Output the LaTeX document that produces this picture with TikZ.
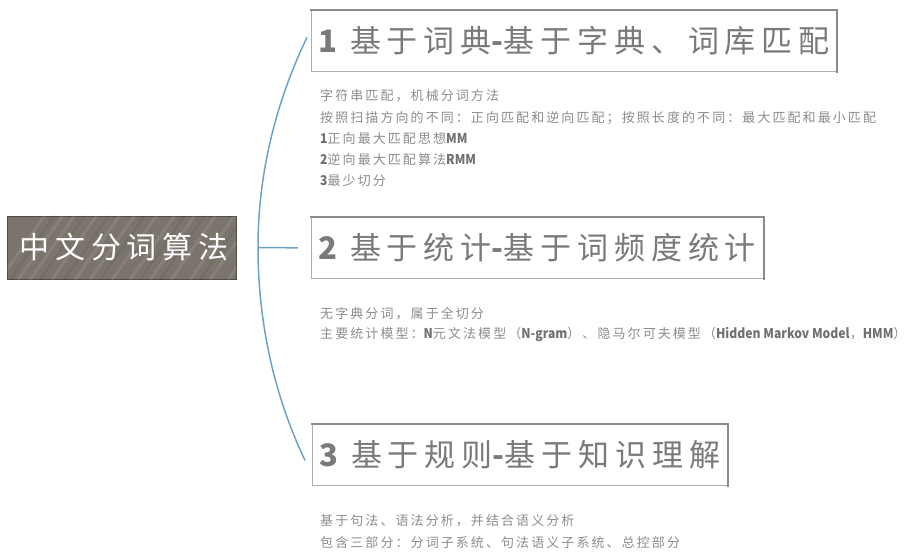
\documentclass[tikz,border=0pt]{standalone}
\usepackage{fontspec}
\usepackage{graphicx}
\setmainfont{Noto Sans CJK SC}
\newfontfamily\cjk{Noto Sans CJK SC}
\newfontfamily\cjkt[LetterSpace=19]{Noto Sans CJK SC}
\newfontfamily\cjks[LetterSpace=16]{Noto Sans CJK SC}
\newcommand\latb[1]{{\cjk\bfseries\color{latgray}\fontsize{13.5}{16}\selectfont\scalebox{0.9}[1]{#1}}}
\newcommand\titb[1]{{\bfseries #1}}
\definecolor{branchblue}{HTML}{6BA3C8}
\definecolor{titlegray}{HTML}{7A7A7A}
\definecolor{textgray}{HTML}{8C8C8C}
\definecolor{latgray}{HTML}{707070}
\definecolor{rootfill}{HTML}{7B746C}
\definecolor{rootline}{HTML}{514B45}
\definecolor{boxline}{HTML}{8A8A8A}
\tikzset{
  topic/.style={draw=boxline!70, line width=0.7pt, fill=white, minimum height=61pt,
    inner xsep=7pt, inner ysep=0pt, anchor=north west, text=titlegray,
    font=\cjkt\fontsize{31}{36}\selectfont},
  topicshadow/.style={draw=boxline, line width=2.2pt, line cap=rect},
  rootbox/.style={draw=rootline, line width=0.8pt, fill=rootfill, minimum width=229pt,
    minimum height=63pt},
  detail/.style={anchor=base west, inner sep=0pt, text=textgray,
    font=\cjks\fontsize{13}{16}\selectfont},
  branch/.style={draw=branchblue, line width=1.5pt}
}
\begin{document}
\begin{tikzpicture}[x=1pt,y=-1pt]
\useasboundingbox (0,0) rectangle (916,553);
% root
\node[rootbox] (root) at (121.5,247.5) {};
\begin{scope}
\clip (root.south west) rectangle (root.north east);
\foreach \sx in {0,18,30,52,75,90,112,130,150,171,190,210,228,246}
  \draw[white, opacity=0.09, line width=3pt] (\sx,280) -- (\sx+45,215);
\foreach \sx in {10,40,64,100,140,160,200,236}
  \draw[black, opacity=0.06, line width=2pt] (\sx,280) -- (\sx+45,215);
\end{scope}
\node[text=white, font=\cjkt\fontsize{30}{36}\selectfont, inner sep=0pt] (roottext) at ([xshift=2.5pt]root.center) {中文分词算法};
% topics
\node[topic, minimum width=525pt] (b1) at (311,10)
  {\makebox[511pt][l]{\titb{1} 基于词典\titb{-}基于字典、词库匹配}};
\node[topic, minimum width=452pt] (b2) at (311,217)
  {\makebox[438pt][l]{\titb{2} 基于统计\titb{-}基于词频度统计}};
\node[topic, minimum width=415pt] (b3) at (312,424)
  {\makebox[401pt][l]{\titb{3} 基于规则\titb{-}基于知识理解}};
\foreach \b in {b1,b2,b3}
  \draw[topicshadow] (\b.north west) -- (\b.north east) -- (\b.south east);
% connectors
\coordinate (hub) at (258,247.5);
\draw[branch] ([xshift=-4pt,yshift=3.5pt]b1.west) .. controls (275.5,103) and (258,174) .. (hub)
  .. controls (258,321) and (273.5,394) .. ([xshift=-7pt,yshift=-5.5pt]b3.west);
\draw[branch] (hub) -- ([xshift=-13pt]b2.west);
% details section 1
\node[detail] (d1a) at (320,101) {字符串匹配，机械分词方法};
\node[detail] (d1b) at (320,123) {按照扫描方向的不同：正向匹配和逆向匹配；按照长度的不同：最大匹配和最小匹配};
\node[detail] (d1c) at (320,144) {\latb{1}正向最大匹配思想\latb{MM}};
\node[detail] (d1d) at (320,165) {\latb{2}逆向最大匹配算法\latb{RMM}};
\node[detail] (d1e) at (320,186) {\latb{3}最少切分};
% details section 2
\node[detail] (d2a) at (320,319) {无字典分词，属于全切分};
\node[detail] (d2b) at (320,339) {主要统计模型：\latb{N}元文法模型（\latb{N-gram}）、隐马尔可夫模型（\latb{Hidden Markov Model}，\latb{HMM}）};
% details section 3
\node[detail] (d3a) at (320,525) {基于句法、语法分析，并结合语义分析};
\node[detail] (d3b) at (320,547) {包含三部分：分词子系统、句法语义子系统、总控部分};
\end{tikzpicture}
\end{document}
